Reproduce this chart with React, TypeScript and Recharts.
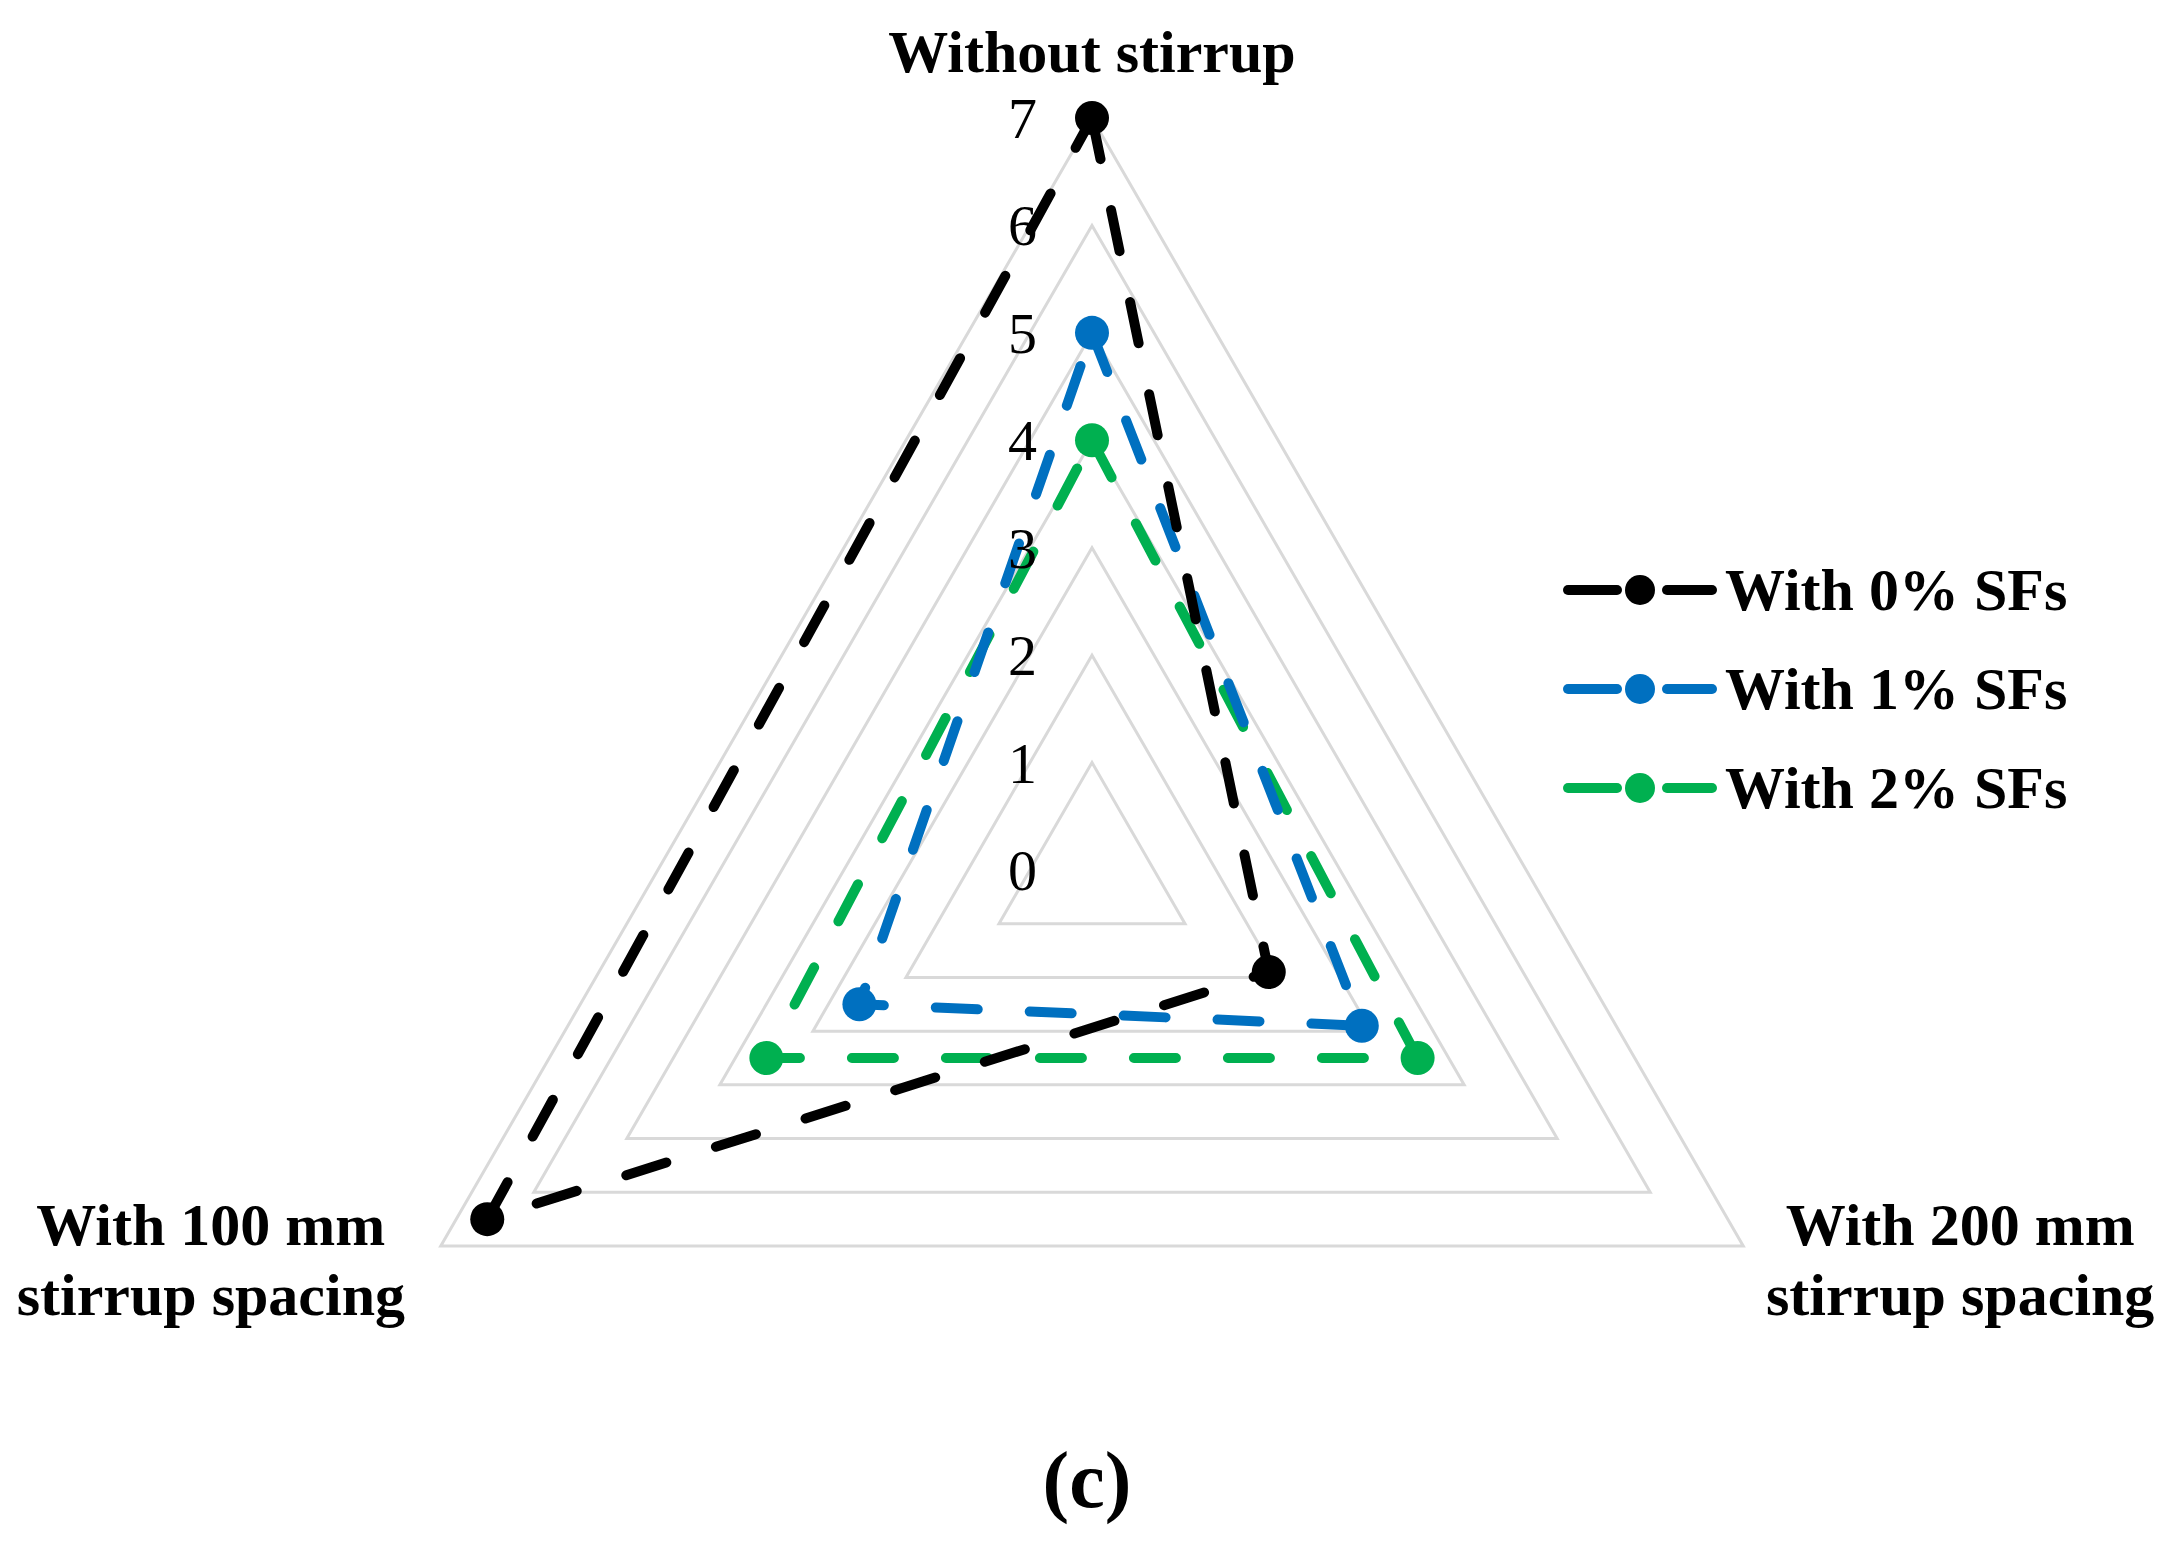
import { RadarChart, Radar, PolarGrid, PolarAngleAxis, PolarRadiusAxis, Legend } from 'recharts'

const categories = ['Without stirrup', 'With 200 mm\nstirrup spacing', 'With 100 mm\nstirrup spacing']
const sf0 = [7, 1.9, 6.5]
const sf1 = [5, 2.9, 2.5]
const sf2 = [4, 3.5, 3.5]
const radiusTicks = [0, 1, 2, 3, 4, 5, 6, 7]

const series = [
  { key: 'sf0', name: 'With 0% SFs', color: '#000000' },
  { key: 'sf1', name: 'With 1% SFs', color: '#0070C0' },
  { key: 'sf2', name: 'With 2% SFs', color: '#00B050' },
]

const data = categories.map((axis, i) => ({ axis, sf0: sf0[i], sf1: sf1[i], sf2: sf2[i] }))

const FONT = '"Liberation Serif", "Times New Roman", serif'

function AngleTick(props: any) {
  const { x, y, payload } = props
  const idx = categories.indexOf(payload.value)
  const lines = String(payload.value).split('\n')
  let dx = 0
  let dy = 0
  if (idx === 0) dy = -38
  else if (idx === 1) {
    dx = 210
    dy = -5
  } else {
    dx = -223
    dy = -5
  }
  return (
    <text
      x={x + dx}
      y={y + dy}
      textAnchor="middle"
      fontFamily={FONT}
      fontSize={60}
      fontWeight="bold"
      fill="#000"
    >
      {lines.map((l, i) => (
        <tspan key={i} x={x + dx} dy={i === 0 ? 0 : 70}>
          {l}
        </tspan>
      ))}
    </text>
  )
}

function RadiusTick(props: any) {
  const { x, y, payload } = props
  return (
    <text x={x - 55} y={y + 20} textAnchor="end" fontFamily={FONT} fontSize={58} fill="#000">
      {payload.value}
    </text>
  )
}

function LegendBox() {
  return (
    <svg width={560} height={300}>
      {series.map((s, i) => {
        const cy = 50 + i * 99
        return (
          <g key={s.key}>
            <line x1={13} x2={62} y1={cy} y2={cy} stroke={s.color} strokeWidth={10} strokeLinecap="round" />
            <line x1={112} x2={157} y1={cy} y2={cy} stroke={s.color} strokeWidth={10} strokeLinecap="round" />
            <circle cx={85} cy={cy} r={15} fill={s.color} />
            <text x={170} y={cy + 20} fontFamily={FONT} fontSize={60} fontWeight="bold" fill="#000">
              {s.name}
            </text>
          </g>
        )
      })}
    </svg>
  )
}

export default function App() {
  const drawOrder = [...series].reverse()
  return (
    <div style={{ margin: -8, width: 2180, height: 1546, position: 'relative', background: '#fff', overflow: 'hidden' }}>
      <RadarChart
        width={2180}
        height={1546}
        data={data}
        cx={1092}
        cy={870}
        outerRadius={752}
        startAngle={90}
        endAngle={-270}
        margin={{ top: 0, right: 0, bottom: 0, left: 0 }}
      >
        <PolarGrid gridType="polygon" radialLines={false} stroke="#d9d9d9" strokeWidth={3} />
        <PolarAngleAxis dataKey="axis" tick={<AngleTick />} axisLine={false} tickLine={false} />
        <PolarRadiusAxis
          angle={90}
          domain={[0, 7]}
          tickCount={radiusTicks.length}
          axisLine={false}
          tick={<RadiusTick />}
        />
        {drawOrder.map((s) => (
          <Radar
            key={s.key}
            name={s.name}
            dataKey={s.key}
            stroke={s.color}
            strokeWidth={10}
            strokeDasharray="42 52"
            strokeLinecap="round"
            fill="none"
            fillOpacity={0}
            isAnimationActive={false}
            dot={(p: any) => <circle key={`${s.key}-${p.index}`} cx={p.cx} cy={p.cy} r={17} fill={s.color} />}
          />
        ))}
        <Legend
          content={() => <LegendBox />}
          wrapperStyle={{ position: 'absolute', left: 1555, top: 540, width: 560 }}
        />
      </RadarChart>
      <div
        style={{
          position: 'absolute',
          left: 0,
          width: 2174,
          top: 1430,
          textAlign: 'center',
          fontFamily: FONT,
          fontSize: 80,
          fontWeight: 'bold',
          lineHeight: '100px',
        }}
      >
        (c)
      </div>
    </div>
  )
}
